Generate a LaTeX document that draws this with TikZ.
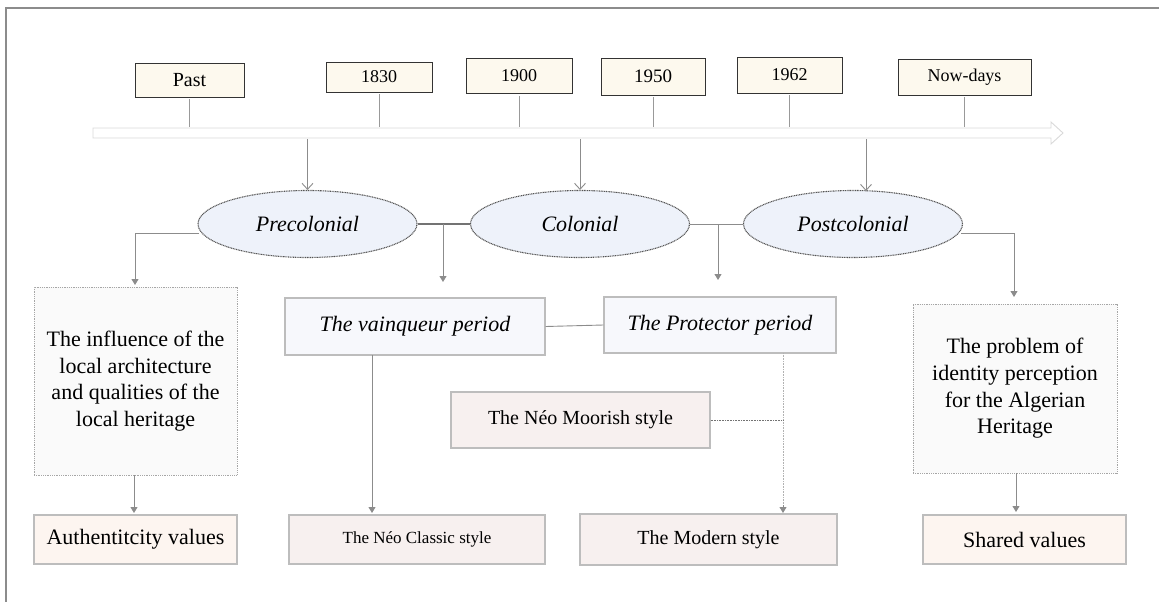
\documentclass[tikz,border=0pt]{standalone}
\usepackage{fontspec}
\setmainfont{Liberation Serif}
\usetikzlibrary{shapes.geometric,arrows.meta}

\definecolor{cream}{HTML}{FDF9EE}
\definecolor{ellfill}{HTML}{EEF2FA}
\definecolor{ellline}{HTML}{555555}
\definecolor{linkgray}{HTML}{8C8C8C}
\definecolor{boxline}{HTML}{BDBDBD}
\definecolor{periodfill}{HTML}{F7F8FC}
\definecolor{notefill}{HTML}{FAFAFA}
\definecolor{valfill}{HTML}{FDF5F0}
\definecolor{stylefill}{HTML}{F7F0EF}

\tikzset{
  yearbox/.style={draw=black!80, line width=0.9pt, fill=cream, inner sep=0pt,
    font=\fontsize{18}{20}\selectfont},
  era/.style={ellipse, draw=ellline, line width=1.1pt, dash pattern=on 1pt off 0.7pt,
    fill=ellfill, inner sep=0pt, minimum width=219pt, minimum height=67pt,
    font=\fontsize{22}{24}\selectfont\itshape},
  periodbox/.style={draw=boxline, line width=1.1pt, fill=periodfill, inner sep=0pt,
    font=\fontsize{22}{24}\selectfont\itshape},
  notebox/.style={draw=black!35, line width=0.8pt, dash pattern=on 1pt off 0.8pt,
    fill=notefill, inner sep=0pt, align=center,
    font=\fontsize{22}{26.7}\selectfont},
  valbox/.style={draw=boxline, line width=1.1pt, fill=valfill, inner sep=0pt,
    font=\fontsize{22}{24}\selectfont},
  stylebox/.style={draw=boxline, line width=1.1pt, fill=stylefill, inner sep=0pt,
    font=\fontsize{20}{22}\selectfont},
  tick/.style={draw=black!40, line width=0.8pt},
  down/.style={draw=linkgray, line width=0.9pt,
    -{Straight Barb[length=6pt,width=11pt,line width=0.9pt]}},
  link/.style={draw=linkgray, line width=0.9pt},
  linkarrow/.style={draw=linkgray, line width=0.9pt,
    -{Triangle[length=6pt,width=7pt]}},
}

\begin{document}
\begin{tikzpicture}[x=1pt,y=-1pt]
\useasboundingbox (0,0) rectangle (1159,602);

% frame
\draw[black!45, line width=1.5pt] (6,602) -- (6,8) -- (1159,8);

% time axis
\draw[draw=black!15, fill=white, line width=0.9pt]
  (93,128) -- (1051,128) -- (1051,122) -- (1063,133) -- (1051,144) -- (1051,138) -- (93,138) -- cycle;
\coordinate (axtop) at (0,127);
\coordinate (axbot) at (0,139);

% dates
\node[yearbox, minimum width=109pt, minimum height=34pt, font=\fontsize{20}{22}\selectfont] (past) at (189.5,80) {Past};
\node[yearbox, minimum width=106pt, minimum height=30pt] (y1830) at (379,77) {1830};
\node[yearbox, minimum width=106pt, minimum height=35pt] (y1900) at (519,76) {1900};
\node[yearbox, minimum width=104pt, minimum height=37pt, font=\fontsize{19}{21}\selectfont] (y1950) at (653,76.5) {1950};
\node[yearbox, minimum width=105pt, minimum height=36pt] (y1962) at (789.5,75) {1962};
\node[yearbox, minimum width=133pt, minimum height=36pt] (now) at (964.5,77) {Now-days};

\foreach \n in {past,y1830,y1900,y1950,y1962,now}
  \draw[tick] ([yshift=-2pt]\n.south) -- (\n.south |- axtop);

% eras
\node[era] (pre)  at (307.5,224) {Precolonial};
\node[era] (col)  at (580,224)   {Colonial};
\node[era] (post) at (853,224)   {Postcolonial};

\draw[down] (pre.north |- axbot) -- (pre.north);
\draw[down] (col.north |- axbot) -- (col.north);
\coordinate (postin) at (866,139);
\draw[down] (postin) -- (866,191);

% periods
\node[periodbox, minimum width=260pt, minimum height=57pt] (vainq) at (415,326.5) {The vainqueur period};
\node[periodbox, minimum width=232pt, minimum height=56pt] (prot)  at (720,325)   {The Protector period};

% notes
\node[notebox, minimum width=203pt, minimum height=188pt] (infl) at (135.5,381)
  {The influence of the\\local architecture\\and qualities of the\\local heritage};
\node[notebox, minimum width=204pt, minimum height=169pt] (prob) at (1015,388.5)
  {The problem of\\identity perception\\for the Algerian\\Heritage};

% styles and values
\node[stylebox, minimum width=259pt, minimum height=56pt] (moor) at (580.5,420) {The Néo Moorish style};
\node[valbox, minimum width=203pt, minimum height=49pt] (auth) at (135.5,539.5) {Authentitcity values};
\node[stylebox, minimum width=256pt, minimum height=49pt, font=\fontsize{17}{20}\selectfont] (classic) at (417,539.5) {The Néo Classic style};
\node[stylebox, minimum width=257pt, minimum height=51pt] (modern) at (708.5,539.5) {The Modern style};
\node[valbox, minimum width=203pt, minimum height=49pt] (shared) at (1024.5,539.5) {Shared values};

% era links
\draw[draw=black!55, line width=1.6pt] (pre.east) -- (col.west);
\draw[link] (col.east) -- (post.west);
\coordinate (prejoin) at (443,224);
\coordinate (coljoin) at (718,224);
\draw[linkarrow] (prejoin) -- (443,282);
\draw[linkarrow] (coljoin) -- (718,280);

% side branches
\coordinate (preleft) at (199,233);
\coordinate (postright) at (961,233);
\draw[linkarrow] (preleft) -- (135,233) -- (135,285);
\draw[linkarrow] (postright) -- (1014,233) -- (1014,297);

% period links
\draw[link] (vainq.east) -- (prot.west);
\coordinate (vdrop) at (372,355);
\draw[linkarrow] (vdrop) -- (372,513);
\coordinate (pdrop) at (783,353);
\draw[draw=black!30, line width=0.9pt, dash pattern=on 1pt off 0.6pt] (pdrop) -- (783,507);
\draw[linkarrow] (783,505) -- (783,513);
\draw[draw=black!55, line width=0.8pt, dash pattern=on 1pt off 0.6pt] (moor.east) -- (783,420);

% notes to values
\draw[linkarrow] (infl.south -| 134,0) -- (134,513);
\draw[linkarrow] (prob.south -| 1016,0) -- (1016,512);
\end{tikzpicture}
\end{document}
